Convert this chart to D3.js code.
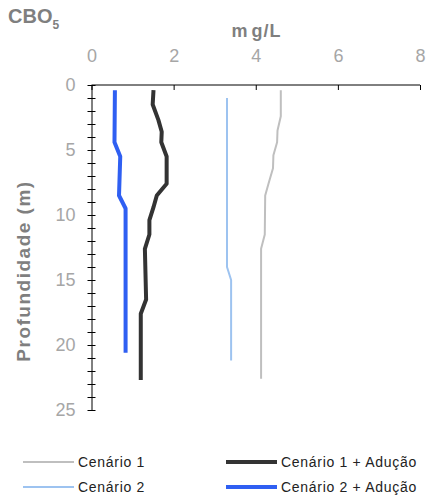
<!DOCTYPE html>
<html>
<head>
<meta charset="utf-8">
<script src="https://cdn.jsdelivr.net/npm/d3@7"></script>
<style>
  body { margin: 0; background: #fff; }
  text { font-family: "Liberation Sans", Arial, sans-serif; }
</style>
</head>
<body>
<div id="canvas"></div>
<script>
// depth (m) and CBO5 (mg/L)
var depth1 = [0.4, 2.4, 3.5, 4.4, 5.4, 6.4, 7.6, 8.5, 11.5, 12.6, 22.6],
    cen1   = [4.61, 4.61, 4.53, 4.52, 4.43, 4.42, 4.31, 4.23, 4.22, 4.13, 4.13];
var depth1a = [0.4, 1.5, 2.7, 3.6, 4.4, 5.5, 7.6, 8.5, 9.4, 10.4, 11.5, 12.6, 16.5, 17.6, 22.7],
    cen1a   = [1.51, 1.49, 1.63, 1.71, 1.70, 1.83, 1.83, 1.59, 1.51, 1.41, 1.41, 1.30, 1.33, 1.20, 1.20];
var depth2 = [1.0, 14.0, 15.0, 21.2],
    cen2   = [3.30, 3.30, 3.40, 3.40];
var depth2a = [0.4, 4.4, 5.5, 8.5, 9.5, 20.6],
    cen2a   = [0.57, 0.56, 0.70, 0.67, 0.83, 0.83];

var xTicks = [0, 2, 4, 6, 8],
    yTicks = [0, 5, 10, 15, 20, 25];

var names  = ['Cenário 1', 'Cenário 1 + Adução', 'Cenário 2', 'Cenário 2 + Adução'],
    colors = ['#bfbfbf', '#333333', '#9dc3f0', '#2f5ff2'],
    widths = [2, 4, 2, 4];

var series = [
  {name: names[0], d: depth1, v: cen1},
  {name: names[1], d: depth1a, v: cen1a},
  {name: names[2], d: depth2, v: cen2},
  {name: names[3], d: depth2a, v: cen2a}
];

var W = 427, H = 499;
var svg = d3.select('#canvas').append('svg')
    .attr('width', W).attr('height', H);

var x = d3.scaleLinear().domain([0, 8]).range([91.5, 420]);
var y = d3.scaleLinear().domain([0, 25]).range([85, 410]);

var grey = '#a6a6a6', dark = '#7f7f7f';

// x axis on top
var xAxis = svg.append('g').attr('transform', 'translate(0,85)')
    .call(d3.axisTop(x).tickValues(xTicks).tickSize(-5).tickPadding(23));
xAxis.select('.domain').attr('d', 'M' + x(0) + ',0H' + x(8)).attr('stroke', '#000');
xAxis.selectAll('line').attr('stroke', '#000');
xAxis.selectAll('text').attr('fill', grey).style('font-size', '18px');

// y axis: minor ticks each metre, crossing the line
var yAxis = svg.append('g').attr('transform', 'translate(' + x(0) + ',0)')
    .call(d3.axisLeft(y).tickValues(d3.range(0, 26)).tickSize(4).tickSizeOuter(0)
      .tickFormat(function(d) { return yTicks.indexOf(d) >= 0 ? d : ''; }));
yAxis.selectAll('.tick line').attr('x1', 4).attr('x2', -4).attr('stroke', '#000');
yAxis.select('.domain').attr('stroke', '#000');
yAxis.selectAll('text').attr('fill', grey).attr('x', -16).style('font-size', '18px');

var line = d3.line()
    .x(function(p) { return x(p[1]); })
    .y(function(p) { return y(p[0]); });

svg.selectAll('.serie').data(series).enter().append('path')
    .attr('class', 'serie')
    .attr('fill', 'none')
    .attr('stroke', function(s, i) { return colors[i]; })
    .attr('stroke-width', function(s, i) { return widths[i]; })
    .attr('stroke-linejoin', 'round')
    .attr('d', function(s) { return line(d3.zip(s.d, s.v)); });

// titles
var t = svg.append('text').attr('x', 8).attr('y', 23)
    .attr('fill', dark).style('font-size', '20px').style('font-weight', 'bold');
t.append('tspan').text('CBO');
t.append('tspan').attr('dy', 6).style('font-size', '12px').text('5');

var u = svg.append('text').attr('x', 256.5).attr('y', 37).attr('text-anchor', 'middle')
    .attr('fill', dark).style('font-size', '18px').style('font-weight', 'bold')
    .style('letter-spacing', '1px');
u.append('tspan').text('m');
u.append('tspan').attr('dx', 3).text('g/L');

svg.append('text')
    .attr('transform', 'translate(30,271) rotate(-90)')
    .attr('text-anchor', 'middle')
    .attr('fill', dark).style('font-size', '19px').style('font-weight', 'bold')
    .style('letter-spacing', '1.5px')
    .text('Profundidade (m)');

// legend
var legPos = [[23, 462], [226, 462], [23, 487], [226, 487]];
var leg = svg.selectAll('.leg').data(series).enter().append('g')
    .attr('transform', function(s, i) { return 'translate(' + legPos[i][0] + ',' + legPos[i][1] + ')'; });
leg.append('line').attr('x1', 0).attr('x2', 51)
    .attr('stroke', function(s, i) { return colors[i]; })
    .attr('stroke-width', function(s, i) { return widths[i]; });
leg.append('text').attr('x', 55).attr('y', 5)
    .attr('fill', '#222').style('font-size', '14px').style('letter-spacing', '0.7px')
    .text(function(s) { return s.name; });
</script>
</body>
</html>
